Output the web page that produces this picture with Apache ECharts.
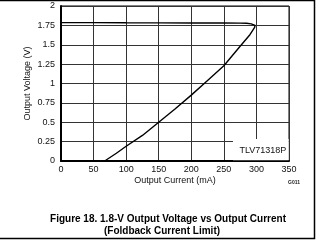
<!DOCTYPE html>
<html><head><meta charset="utf-8">
<script src="https://cdn.jsdelivr.net/npm/echarts@6/dist/echarts.min.js"></script>
<style>html,body{margin:0;padding:0;background:#fff}#c{width:323px;height:243px}</style>
</head><body><div id="c"></div>
<script>
// Foldback curve: output current (mA) vs output voltage (V)
const currentMA = [0, 50, 100, 150, 200, 250, 275, 285, 292, 298, 297, 290, 275, 250, 225, 200, 175, 150, 125, 100, 85, 67];
const voltageV  = [1.785, 1.785, 1.783, 1.782, 1.781, 1.78, 1.779, 1.777, 1.77, 1.75, 1.72, 1.63, 1.48, 1.23, 1.04, 0.85, 0.67, 0.5, 0.33, 0.19, 0.1, 0];
const xTicks = [0, 50, 100, 150, 200, 250, 300, 350];
const yTicks = [0, 0.25, 0.5, 0.75, 1, 1.25, 1.5, 1.75, 2];
const deviceLabel = 'TLV71318P';
const labelBoxX = [264, 349.5];
const labelBoxY = [0.01, 0.284];

const chart = echarts.init(document.getElementById('c'));
const F = 'Liberation Sans, Arial, sans-serif';
chart.setOption({
  animation: false,
  grid: {left: 61, right: 34, top: 6, bottom: 82, show: true, borderColor: '#000', borderWidth: 1},
  xAxis: {
    type: 'value', min: xTicks[0], max: xTicks[xTicks.length-1], interval: 50,
    name: 'Output Current (mA)', nameLocation: 'middle', nameGap: 15, nameMoveOverlap: false,
    nameTextStyle: {fontFamily: F, fontSize: 9, color: '#111'},
    axisLine: {show: true, onZero: false, lineStyle: {color: '#000', width: 2}},
    axisTick: {show: false},
    axisLabel: {fontFamily: F, fontSize: 9, color: '#111', margin: 4},
    splitLine: {show: true, lineStyle: {color: '#333', width: 1}}
  },
  yAxis: {
    type: 'value', min: yTicks[0], max: yTicks[yTicks.length-1], interval: 0.25,
    name: 'Output Voltage (V)', nameLocation: 'middle', nameGap: 29, nameMoveOverlap: false,
    nameTextStyle: {fontFamily: F, fontSize: 9, color: '#111'},
    axisLine: {show: true, onZero: false, lineStyle: {color: '#000', width: 2}},
    axisTick: {show: false},
    axisLabel: {fontFamily: F, fontSize: 9, color: '#111', margin: 6,
      formatter: v => String(v)},
    splitLine: {show: true, lineStyle: {color: '#333', width: 1}}
  },
  series: [{
    type: 'line', data: currentMA.map((x, i) => [x, voltageV[i]]),
    showSymbol: false, smooth: false,
    lineStyle: {color: '#000', width: 1.4},
    markArea: {
      silent: true,
      itemStyle: {color: '#fff'},
      label: {show: true, position: 'inside', formatter: deviceLabel,
        fontFamily: F, fontSize: 9, color: '#111', offset: [2, 1]},
      data: [[{coord: [labelBoxX[0], labelBoxY[0]]}, {coord: [labelBoxX[1], labelBoxY[1]]}]]
    }
  }],
  graphic: [
    {type: 'rect', shape: {x: -3, y: 0.5, width: 317.5, height: 238}, style: {fill: 'none', stroke: '#000', lineWidth: 1.5}, silent: true},
    {type: 'text', left: 288, top: 180, style: {text: 'G011', font: 'bold 5px ' + F, fill: '#222'}},
    {type: 'text', x: 168, y: 219, style: {text: 'Figure 18. 1.8-V Output Voltage vs Output Current', font: 'bold 10px ' + F, fill: '#000', align: 'center', verticalAlign: 'middle'}},
    {type: 'text', x: 162, y: 231, style: {text: '(Foldback Current Limit)', font: 'bold 10px ' + F, fill: '#000', align: 'center', verticalAlign: 'middle'}}
  ]
});
</script></body></html>
